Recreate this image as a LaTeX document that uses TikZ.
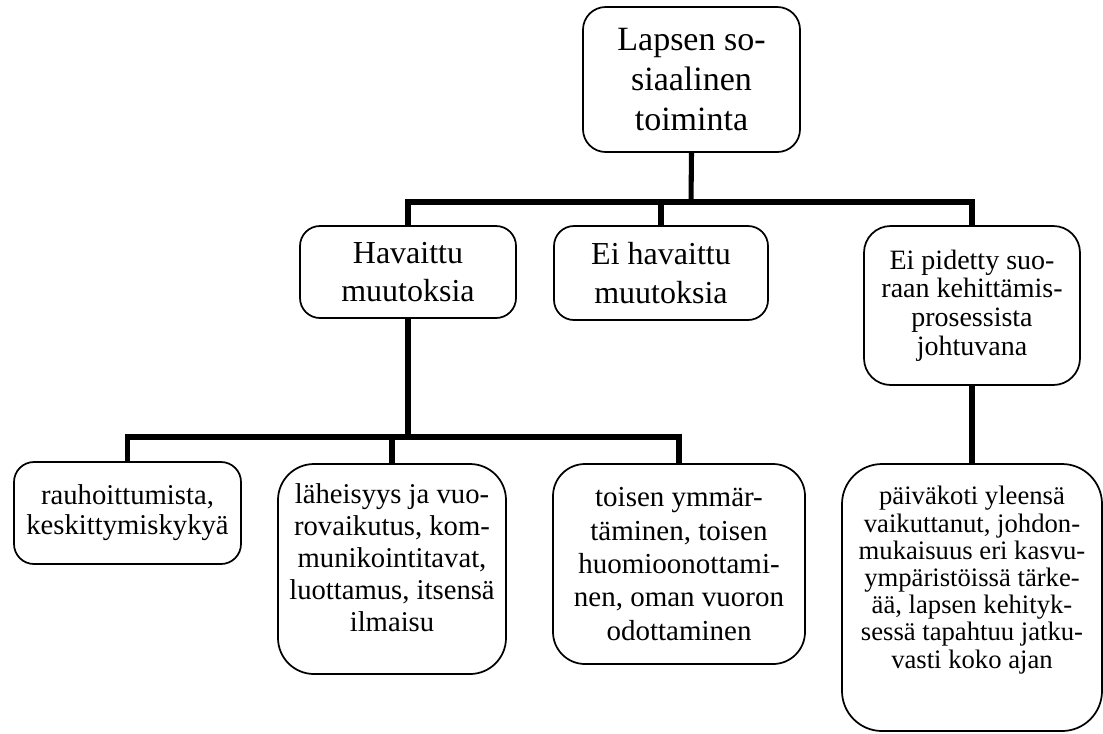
\documentclass[tikz,border=0pt]{standalone}
\usepackage{fontspec}
\setmainfont{Liberation Serif}
\tikzset{
  box/.style={draw, line width=1.3pt, align=center, inner sep=0pt},
  txt/.style={align=center, inner sep=0pt},
  conn/.style={line width=3.8pt, line join=miter},
}
\begin{document}
\begin{tikzpicture}[x=0.75pt,y=-0.75pt]
\useasboundingbox (0,0) rectangle (1103,733);

% top level
\node[box, minimum width=162.75pt, minimum height=108.75pt, rounded corners=17pt,
      font=\fontsize{25.5pt}{30pt}\selectfont] (root) at (691.5,79.5)
  {Lapsen so-\\siaalinen\\toiminta};

% second level
\node[box, minimum width=162pt, minimum height=69pt, rounded corners=15pt,
      font=\fontsize{24pt}{29pt}\selectfont] (hav) at (408,272)
  {Havaittu\\muutoksia};
\node[box, minimum width=160.5pt, minimum height=70.5pt, rounded corners=15pt,
      font=\fontsize{24pt}{29pt}\selectfont] (eih) at (661,273)
  {Ei havaittu\\muutoksia};
\node[box, minimum width=162pt, minimum height=119.25pt, rounded corners=20pt,
      font=\fontsize{21pt}{21.5pt}\selectfont] (eip) at (972,305.5)
  {Ei pidetty suo-\\raan kehittämis-\\prosessista\\johtuvana};

% third level
\node[box, minimum width=170.25pt, minimum height=76.5pt, rounded corners=15pt,
      font=\fontsize{21.5pt}{22.5pt}\selectfont] (rau) at (127.5,513)
  {rauhoittumista,\\keskittymiskykyä};
\node[box, minimum width=171pt, minimum height=157.5pt, rounded corners=27pt] (lah) at (392,569) {};
\node[txt, font=\fontsize{21.5pt}{24pt}\selectfont] (lahT) at (392,558)
  {läheisyys ja vuo-\\rovaikutus, kom-\\munikointitavat,\\luottamus, itsensä\\ilmaisu};
\node[box, minimum width=189pt, minimum height=150pt, rounded corners=24pt,
      font=\fontsize{21.75pt}{25pt}\selectfont] (toi) at (679,564)
  {toisen ymmär-\\täminen, toisen\\huomioonottami-\\nen, oman vuoron\\odottaminen};
\node[box, minimum width=195pt, minimum height=200.25pt, rounded corners=30pt] (pai) at (972,597.5) {};
\node[txt, font=\fontsize{20pt}{20.4pt}\selectfont] (paiT) at (972,580)
  {päiväkoti yleensä\\vaikuttanut, johdon-\\mukaisuus eri kasvu-\\ympäristöissä tärke-\\ää, lapsen kehityk-\\sessä tapahtuu jatku-\\vasti koko ajan};

% connectors, upper tree
\coordinate (tb) at (691,202);
\draw[conn] (root.south) -- (tb);
\draw[conn] (hav.north) |- (tb) -| (eip.north);
\draw[conn] (eih.north) -- (eih.north |- tb);

% connectors, lower tree
\coordinate (lb) at (408,437);
\draw[conn] (hav.south) -- (lb);
\draw[conn] (rau.north) |- (lb) -| (toi.north);
\draw[conn] (lah.north) -- (lah.north |- lb);
\draw[conn] (eip.south) -- (pai.north);
\end{tikzpicture}
\end{document}
